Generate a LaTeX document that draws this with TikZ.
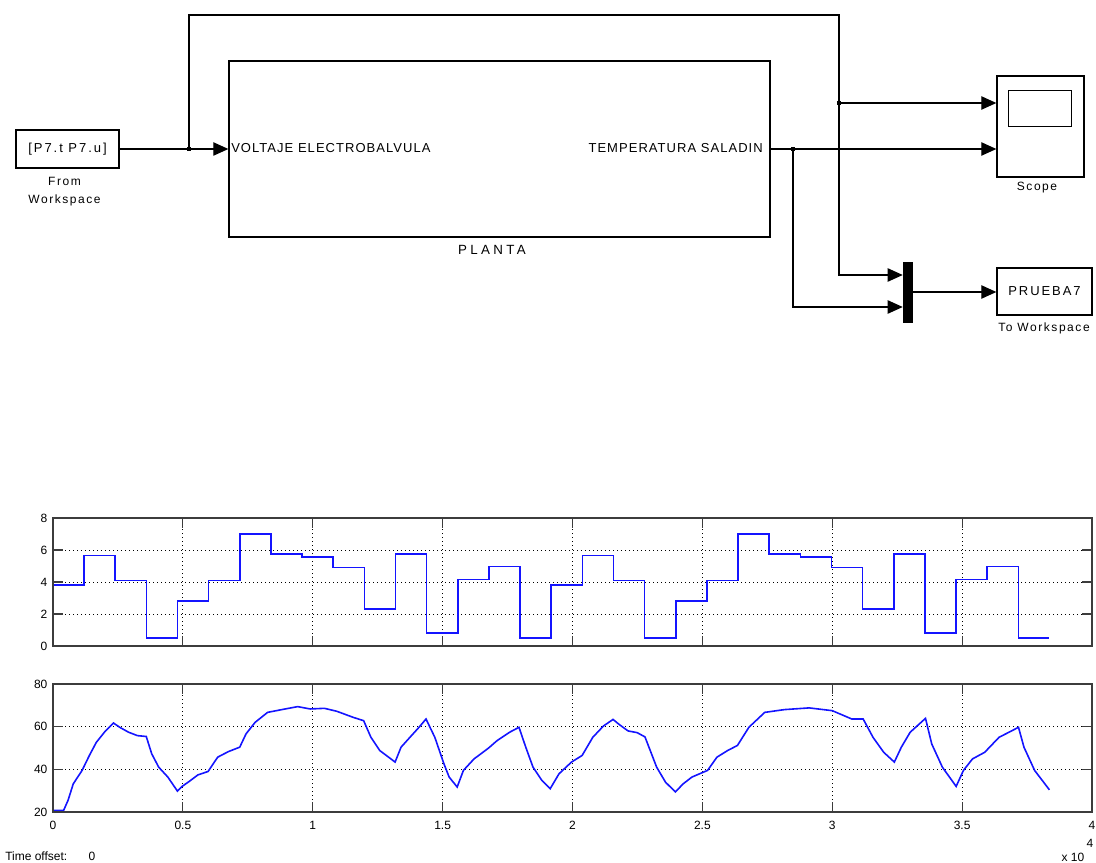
\documentclass[tikz,border=0pt]{standalone}
\usepackage{fontspec}
\setmainfont{Liberation Sans}
\newfontfamily\simfont[LetterSpace=13]{Liberation Sans}
\newfontfamily\blkfont[LetterSpace=8]{Liberation Sans}
\newfontfamily\wideblkfont[LetterSpace=15]{Liberation Sans}
\newfontfamily\widefont[LetterSpace=25]{Liberation Sans}
\usetikzlibrary{arrows.meta,calc}
\definecolor{sigblue}{RGB}{20,20,255}
\definecolor{axgray}{RGB}{60,60,60}
\begin{document}
\begin{tikzpicture}[x=0.75pt,y=-0.75pt,
  blk/.style={draw, line width=1pt, inner sep=0pt},
  conn/.style={line width=0.9pt},
  arr/.style={conn, -{Triangle[length=11.25pt,width=10pt]}},
  jdot/.style={fill, inner sep=0pt, minimum size=3pt},
  lbl/.style={font=\simfont\fontsize{9}{10}\selectfont, inner sep=0pt},
  btxt/.style={font=\blkfont\fontsize{9.75}{11}\selectfont, inner sep=0pt},
  wbtxt/.style={font=\wideblkfont\fontsize{9.75}{11}\selectfont, inner sep=0pt},
  tick/.style={font=\fontsize{9}{10}\selectfont, inner sep=0pt},
  axbox/.style={draw=axgray, line width=0.8pt},
  gridl/.style={black, line width=0.6pt, dash pattern=on 0.75pt off 2.25pt},
  sig/.style={sigblue, line width=1.2pt},
]
\useasboundingbox (0,0) rectangle (1096,863);

% ---------------- block diagram ----------------
\node[blk, minimum width=103*0.75pt, minimum height=38*0.75pt, wbtxt] (fw) at (67.5,149) {[P7.t P7.u]};
\node[lbl, align=center] (fwl) at (64.5,191.5) {From\\[3pt]Workspace};

\node[blk, minimum width=541*0.75pt, minimum height=176*0.75pt] (planta) at (499.5,149) {};
\node[btxt, anchor=west] (pin) at (231,148) {VOLTAJE ELECTROBALVULA};
\node[btxt, anchor=east] (pout) at (763,148) {TEMPERATURA SALADIN};
\node[inner sep=0pt, font=\widefont\fontsize{10}{11}\selectfont] (plbl) at (492,250) {PLANTA};

\node[blk, minimum width=87*0.75pt, minimum height=101*0.75pt] (scope) at (1040.5,126.5) {};
\draw[line width=1pt] ($(scope.north west)+(12,15)$) rectangle ($(scope.north west)+(75,51)$);
\node[lbl] (scl) at (1037,188) {Scope};

\node[draw, fill=black, inner sep=0pt, minimum width=9*0.75pt, minimum height=60*0.75pt] (mux) at (907.5,292) {};

\node[blk, minimum width=95*0.75pt, minimum height=47*0.75pt, wbtxt] (tows) at (1044.5,291.5) {PRUEBA7};
\node[lbl] (towl) at (1044,328) {To Workspace};

\coordinate (j1) at (189,149);
\coordinate (ctop) at (839,15);
\coordinate (j2) at (839,103);
\coordinate (j3) at (793,149);

\draw[arr] (fw.east) -- (fw.east -| planta.west);
\draw[arr] (j1) |- (ctop) |- ([yshift=12.75pt]mux.west);
\draw[arr] (j2) -- (j2 -| scope.west);
\draw[arr] (planta.east) -- (planta.east -| scope.west);
\draw[arr] (j3) |- ([yshift=-11.25pt]mux.west);
\draw[arr] (mux.east) -- (mux.east -| tows.west);
\node[jdot] at (j1) {};
\node[jdot] at (j2) {};
\node[jdot] at (j3) {};

% ---------------- top plot ----------------
\begin{scope}[shift={(53,646)}, x=194.8125pt, y=12pt]
  \foreach \t in {0.5,1,...,3.5} \draw[gridl] (\t,0) -- (\t,8);
  \foreach \v in {2,4,6} \draw[gridl] (0,\v) -- (4,\v);
  \foreach \t in {0.5,1,...,3.5} {
    \draw[axbox] (\t,0) -- ++(0pt,7.5pt);
    \draw[axbox] (\t,8) -- ++(0pt,-7.5pt);
  }
  \foreach \v in {2,4,6} {
    \draw[axbox] (0,\v) -- ++(7.5pt,0pt);
    \draw[axbox] (4,\v) -- ++(-7.5pt,0pt);
  }
  \foreach \v in {0,2,4,6,8} \node[tick, anchor=east, xshift=-4pt] at (0,\v) {\v};
  \draw[sig] plot[const plot] coordinates {
    (0,3.8) (0.1199,5.65) (0.2398,4.1) (0.3596,0.5) (0.4795,2.8) (0.5994,4.1)
    (0.7193,7.0) (0.8392,5.75) (0.9590,5.55) (1.0789,4.9) (1.1988,2.3)
    (1.3187,5.75) (1.4386,0.8) (1.5584,4.15) (1.6783,4.98) (1.7982,0.5)
    (1.9181,3.8) (2.0380,5.65) (2.1578,4.1) (2.2777,0.5) (2.3976,2.8) (2.5175,4.1)
    (2.6374,7.0) (2.7572,5.75) (2.8771,5.55) (2.9970,4.9) (3.1169,2.3)
    (3.2368,5.75) (3.3566,0.8) (3.4765,4.15) (3.5964,4.98) (3.7163,0.5) (3.8362,0.5)};
  \draw[axbox] (0,0) rectangle (4,8);
\end{scope}

% ---------------- bottom plot ----------------
\begin{scope}[shift={(53,854.667)}, x=194.8125pt, y=1.6pt]
  \foreach \t in {0.5,1,...,3.5} \draw[gridl] (\t,20) -- (\t,80);
  \foreach \v in {40,60} \draw[gridl] (0,\v) -- (4,\v);
  \foreach \t in {0.5,1,...,3.5} {
    \draw[axbox] (\t,20) -- ++(0pt,7.5pt);
    \draw[axbox] (\t,80) -- ++(0pt,-7.5pt);
  }
  \foreach \v in {40,60} {
    \draw[axbox] (0,\v) -- ++(7.5pt,0pt);
    \draw[axbox] (4,\v) -- ++(-7.5pt,0pt);
  }
  \foreach \v in {20,40,60,80} \node[tick, anchor=east, xshift=-4pt] at (0,\v) {\v};
  \foreach \t in {0,0.5,1,1.5,2,2.5,3,3.5,4} \node[tick, yshift=-10pt] at (\t,20) {\t};
  \draw[sig] plot coordinates {
    (0,20.8) (0.041,20.8) (0.058,25.5) (0.078,33.2) (0.112,39.5) (0.14,46.5)
    (0.167,52.7) (0.202,58) (0.233,61.7) (0.257,59.7) (0.291,57.4) (0.325,55.8)
    (0.359,55.4) (0.38,47.3) (0.407,41) (0.442,36.4) (0.479,29.8) (0.497,32)
    (0.524,34.3) (0.558,37.4) (0.597,39) (0.634,45.7) (0.675,48.3) (0.719,50.4)
    (0.743,56.6) (0.778,62) (0.826,66.7) (0.881,68) (0.942,69.4) (0.99,68.3)
    (1.045,68.6) (1.093,67.2) (1.155,64.4) (1.196,62.8) (1.224,55) (1.258,48.8)
    (1.292,45.7) (1.317,43.4) (1.34,50.4) (1.374,55) (1.409,59.7) (1.436,63.6)
    (1.47,55) (1.505,42.6) (1.525,36.4) (1.556,31.7) (1.58,39.5) (1.621,44.9)
    (1.676,49.9) (1.71,53.5) (1.758,57.4) (1.794,59.7) (1.82,50.4) (1.848,41)
    (1.882,34.8) (1.914,30.9) (1.948,37.9) (1.996,43.4) (2.037,46.5) (2.078,55)
    (2.119,60.3) (2.156,63.4) (2.18,61) (2.214,58) (2.249,57.2) (2.279,55.2)
    (2.324,41) (2.358,34) (2.396,29.4) (2.426,33.2) (2.46,36.4) (2.52,39.5)
    (2.556,45.7) (2.597,48.8) (2.635,51.2) (2.679,59.7) (2.74,66.7) (2.816,68)
    (2.911,68.8) (3.0,67.5) (3.075,63.6) (3.119,63.6) (3.157,55) (3.198,48)
    (3.239,43.4) (3.266,50.4) (3.3,57.4) (3.359,63.9) (3.383,51.9) (3.424,41)
    (3.477,32) (3.505,39.5) (3.54,44.9) (3.587,48) (3.642,55) (3.717,59.7)
    (3.738,50.4) (3.779,39.5) (3.836,30.4)};
  \draw[axbox] (0,20) rectangle (4,80);
\end{scope}

\node[tick, anchor=west] (toff) at (5,856) {Time offset:};
\node[tick] (toffv) at (92,856) {0};
\node[tick] (xexp) at (1073,857) {x 10};
\node[tick] (xexpp) at (1090,843) {4};
\end{tikzpicture}
\end{document}
